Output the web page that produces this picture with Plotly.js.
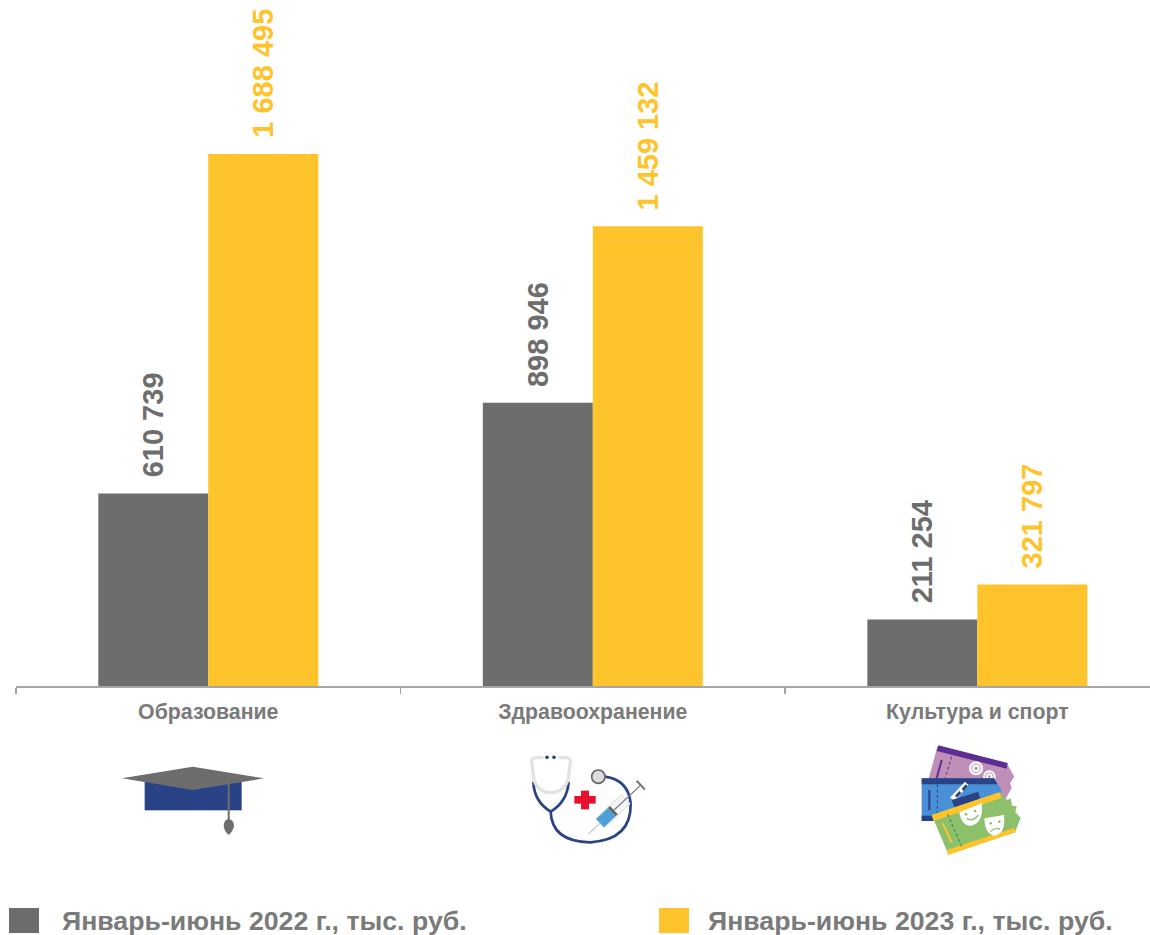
<!DOCTYPE html>
<html><head><meta charset="utf-8">
<script src="https://cdn.plot.ly/plotly-3.0.1.min.js"></script>
<style>html,body{margin:0;padding:0;background:#fff;overflow:hidden}#c{width:1150px;height:935px}</style>
</head><body><div id="c"></div>
<script>
const categories = ["Образование", "Здравоохранение", "Культура и спорт"];
const values2022 = [610739, 898946, 211254];
const values2023 = [1688495, 1459132, 321797];
const name2022 = "Январь-июнь 2022 г., тыс. руб.";
const name2023 = "Январь-июнь 2023 г., тыс. руб.";
const colorGray = "#6d6d6d";
const colorYellow = "#ffc32b";
const textGray = "#7a7a7a";

const W = 1150, H = 935, L = 16, B = 249, PW = W - L, PH = H - B;
const px = x => (x - L) / PW;
const py = y => (PH - y) / PH;
const fmt = v => String(v).replace(/\B(?=(\d{3})+$)/g, " ");

function svgUri(vw, vh, body) {
  return "data:image/svg+xml;charset=utf-8," + encodeURIComponent(
    `<svg xmlns="http://www.w3.org/2000/svg" viewBox="0 0 ${vw} ${vh}" width="${vw}" height="${vh}">${body}</svg>`);
}
const capSvg = svgUri(600, 330, `
  <rect x="134" y="126" width="291" height="85" fill="#2a4286"/>
  <polygon points="66,115 278,80 492,115 278,150" fill="#6d6d6d"/>
  <line x1="386" y1="130" x2="386" y2="245" stroke="#6d6d6d" stroke-width="6"/>
  <path d="M386 237 Q402 240 402 258 Q400 272 386 285 Q372 272 371 258 Q371 240 386 237Z" fill="#6d6d6d"/>`);
const stethSvg = svgUri(480, 330, `
  <path d="M70 125 Q72 185 122 215 Q172 185 176 125" fill="none" stroke="#2a4286" stroke-width="8"/>
  <path d="M122 215 Q125 305 240 307 Q365 300 362 190 Q355 120 285 110" fill="none" stroke="#2a4286" stroke-width="8"/>
  <path d="M72 120 L65 68 Q63 53 78 53 L100 53 M145 53 L168 53 Q183 53 181 68 L174 120 Q160 158 122 158 Q85 158 72 120" fill="none" stroke="#e3e3e3" stroke-width="10"/>
  <circle cx="111" cy="52" r="5.5" fill="#2a4286"/><circle cx="132" cy="52" r="5.5" fill="#2a4286"/>
  <circle cx="265" cy="110" r="20" fill="#ddd" stroke="#666" stroke-width="5"/>
  <rect x="193" y="168" width="64" height="23" fill="#e8112d"/><rect x="213" y="152" width="24" height="56" fill="#e8112d"/>
  <g transform="translate(235,282) rotate(-43)">
    <line x1="0" y1="0" x2="50" y2="0" stroke="#bbb" stroke-width="3"/>
    <rect x="48" y="-19" width="105" height="38" fill="#f5f5f5" stroke="#e0e0e0" stroke-width="3"/>
    <rect x="48" y="-17" width="48" height="34" fill="#4f9fdb"/>
    <rect x="96" y="-17" width="9" height="34" fill="#666"/>
    <line x1="105" y1="0" x2="215" y2="0" stroke="#777" stroke-width="4"/>
    <line x1="215" y1="-18" x2="215" y2="18" stroke="#777" stroke-width="6"/>
  </g>`);
const ticketSvg = svgUri(420, 390, `
  <polygon points="112,35 322,88 343,125 330,145 335,158 318,190 85,135" fill="#c08fb8"/>
  <polygon points="115,31 323,84 320,101 110,48" fill="#5e2d91"/>
  <line x1="125" y1="75" x2="110" y2="130" stroke="#5e2d91" stroke-width="6"/>
  <line x1="155" y1="65" x2="135" y2="130" stroke="#5e2d91" stroke-width="3" stroke-dasharray="9 7"/>
  <circle cx="228" cy="100" r="21" fill="#fff"/><circle cx="228" cy="100" r="13" fill="none" stroke="#c08fb8" stroke-width="3"/><circle cx="228" cy="100" r="5" fill="#c08fb8"/>
  <circle cx="268" cy="125" r="19" fill="#fff"/><circle cx="268" cy="125" r="12" fill="none" stroke="#c08fb8" stroke-width="3"/><circle cx="268" cy="125" r="4" fill="#c08fb8"/>
  <polygon points="65,130 282,130 305,165 298,180 310,200 100,258 65,258" fill="#4a90d6"/>
  <polygon points="65,130 282,130 292,148 65,148" fill="#2a4286"/>
  <rect x="65" y="242" width="40" height="16" fill="#2a4286"/>
  <rect x="85" y="165" width="6" height="60" fill="#2a4286"/>
  <line x1="112" y1="148" x2="112" y2="242" stroke="#2a4286" stroke-width="3" stroke-dasharray="9 7"/>
  <polygon points="150,188 195,140 205,150 165,198" fill="#fff"/>
  <polygon points="165,182 178,168 184,174 171,188" fill="#2a4286"/>
  <polygon points="185,162 197,148 203,154 191,168" fill="#2a4286"/>
  <polygon points="155,195 235,170 240,190 170,235" fill="#2a4286"/>
  <polygon points="95,240 300,172 322,195 332,190 336,212 350,214 346,232 362,248 345,292 145,358" fill="#8dc06b"/>
  <polygon points="95,240 298,172 305,188 101,258" fill="#ffc32b"/>
  <polygon points="140,345 343,278 346,292 145,360" fill="#ffc32b"/>
  <line x1="128" y1="265" x2="155" y2="322" stroke="#ffc32b" stroke-width="6"/>
  <line x1="143" y1="238" x2="188" y2="340" stroke="#2a7a55" stroke-width="3" stroke-dasharray="9 7"/>
  <path d="M178 232 L245 205 Q252 262 215 272 Q185 275 178 232Z" fill="#fff"/>
  <circle cx="198" cy="238" r="4" fill="#8dc06b"/><circle cx="225" cy="228" r="4" fill="#8dc06b"/>
  <path d="M200 250 Q218 262 235 240" fill="none" stroke="#8dc06b" stroke-width="4"/>
  <path d="M253 250 L312 240 Q318 295 285 302 Q255 300 253 250Z" fill="#fff"/>
  <circle cx="272" cy="265" r="4" fill="#8dc06b"/><circle cx="298" cy="260" r="4" fill="#8dc06b"/>
  <path d="M272 290 Q285 275 300 283" fill="none" stroke="#8dc06b" stroke-width="4"/>`);

function icon(source, x, y, w, h) {
  return {source, xref:"paper", yref:"paper", x:px(x), y:py(y), sizex:w/PW, sizey:h/PH,
          xanchor:"left", yanchor:"top", sizing:"stretch", layer:"above"};
}

const barShift = 55;
function valueLabels(vals, shift, color) {
  return vals.map((v, i) => ({
    x: categories[i], y: v, xref:"x", yref:"y", text: fmt(v), textangle:-90, showarrow:false,
    xanchor:"center", yanchor:"bottom", xshift:shift, yshift:14,
    font:{family:"Liberation Sans", size:29, color, weight:700}
  }));
}
function legendKey(x, color) {
  return {type:"rect", xref:"paper", yref:"paper", x0:px(x), x1:px(x+30), y0:py(908), y1:py(933),
          fillcolor:color, line:{width:0}};
}
function legendText(x, text) {
  return {xref:"paper", yref:"paper", x:px(x), y:py(921), text, showarrow:false, xanchor:"left", yanchor:"middle",
          font:{family:"Liberation Sans", size:26.7, color:textGray, weight:700}};
}

const traces = [
  {type:"bar", x:categories, y:values2022, name:name2022, marker:{color:colorGray}, hoverinfo:"x+y"},
  {type:"bar", x:categories, y:values2023, name:name2023, marker:{color:colorYellow}, hoverinfo:"x+y"}
];
const layout = {
  width:W, height:H, margin:{l:L, r:0, t:0, b:B, pad:0},
  paper_bgcolor:"#fff", plot_bgcolor:"#fff", showlegend:false,
  barmode:"group", bargap:0.428, bargroupgap:0,
  xaxis:{type:"category", categoryorder:"array", categoryarray:categories, range:[-0.5, 2.449], tickson:"boundaries",
         ticks:"outside", ticklen:6, tickwidth:1.5, tickcolor:"#a6a6a6", showline:true, linecolor:"#a6a6a6", linewidth:1.5,
         showgrid:false, zeroline:false, ticklabelstandoff:6,
         tickfont:{family:"Liberation Sans", size:21.3, color:textGray, weight:700}},
  yaxis:{range:[0, 2177000], visible:false, fixedrange:true},
  annotations:[...valueLabels(values2022, -barShift, colorGray), ...valueLabels(values2023, barShift, colorYellow),
               legendText(60, name2022), legendText(706, name2023)],
  shapes:[legendKey(9, colorGray), legendKey(659, colorYellow)],
  images:[icon(capSvg,100,740,200,110), icon(stethSvg,510,740,160,110), icon(ticketSvg,900,735,140,130)]
};
Plotly.newPlot("c", traces, layout, {displayModeBar:false, staticPlot:true});
</script></body></html>
